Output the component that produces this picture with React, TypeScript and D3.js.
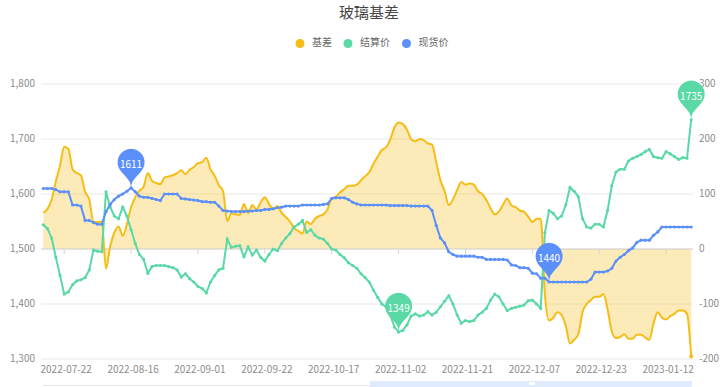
import React from "react";
import * as d3 from "d3";

// 现货价
const spot = [
  1610, 1610, 1610, 1608, 1604, 1604, 1604, 1580, 1580, 1578,
  1552, 1552, 1548, 1545, 1545, 1568, 1581, 1590, 1596, 1600,
  1605, 1611, 1604, 1596, 1594, 1594, 1592, 1590, 1588, 1600,
  1600, 1600, 1600, 1592, 1591, 1590, 1589, 1588, 1586, 1586,
  1585, 1585, 1578, 1570, 1569, 1568, 1568, 1568, 1568, 1569,
  1569, 1570, 1570, 1572, 1572, 1573, 1575, 1576, 1578, 1578,
  1578, 1578, 1580, 1580, 1580, 1580, 1580, 1581, 1582, 1592,
  1593, 1593, 1593, 1590, 1585, 1582, 1580, 1580, 1580, 1580,
  1580, 1580, 1580, 1579, 1579, 1579, 1579, 1579, 1578, 1578,
  1578, 1578, 1578, 1570, 1543, 1520, 1511, 1495, 1490, 1487,
  1487, 1487, 1487, 1487, 1485, 1485, 1481, 1481, 1481, 1481,
  1481, 1480, 1471, 1470, 1466, 1466, 1465, 1456, 1455, 1447,
  1447, 1440, 1440, 1440, 1440, 1440, 1440, 1440, 1440, 1440,
  1440, 1445, 1458, 1458, 1458, 1460, 1465, 1478, 1485, 1490,
  1497, 1502, 1512, 1516, 1516, 1516, 1525, 1531, 1540, 1540,
  1540, 1540, 1540, 1540, 1540, 1540,
];

// 结算价
const settle = [
  1544, 1537, 1520, 1485, 1452, 1418, 1422, 1435, 1442, 1444,
  1448, 1462, 1498, 1496, 1495, 1604, 1576, 1560, 1555, 1576,
  1560, 1535, 1510, 1490, 1481, 1456, 1468, 1470, 1470, 1470,
  1468, 1466, 1462, 1449, 1455, 1446, 1440, 1432, 1428, 1420,
  1440, 1452, 1462, 1465, 1518, 1503, 1505, 1506, 1486, 1504,
  1489, 1498, 1485, 1478, 1490, 1500, 1497, 1510, 1520, 1528,
  1540, 1545, 1552, 1530, 1535, 1525, 1520, 1518, 1510, 1500,
  1498, 1490, 1484, 1475, 1470, 1465, 1455, 1448, 1440, 1425,
  1412, 1400, 1395, 1380, 1358, 1349, 1352, 1362, 1378, 1382,
  1378, 1380, 1386, 1380, 1385, 1395, 1405, 1415, 1400, 1380,
  1365, 1370, 1368, 1370, 1380, 1385, 1392, 1407, 1418, 1413,
  1400, 1388, 1392, 1394, 1396, 1398, 1406, 1407, 1400, 1392,
  1530, 1570, 1565, 1555, 1560, 1580, 1612, 1605, 1595, 1555,
  1540, 1538, 1545, 1545, 1540, 1570, 1615, 1640, 1645, 1645,
  1660, 1665, 1668, 1672, 1677, 1681, 1668, 1666, 1665, 1677,
  1673, 1668, 1663, 1666, 1665, 1735,
];

// 基差
const basis = [
  66, 73, 90, 123, 152, 186, 182, 145, 138, 134,
  104, 90, 50, 49, 50, -36, 5, 30, 41, 24,
  45, 76, 94, 106, 113, 138, 124, 120, 118, 130,
  132, 134, 138, 143, 136, 144, 149, 156, 158, 166,
  145, 133, 116, 105, 51, 65, 63, 62, 82, 65,
  80, 72, 85, 94, 82, 73, 78, 66, 58, 50,
  38, 33, 28, 50, 45, 55, 60, 63, 72, 92,
  95, 103, 109, 115, 115, 117, 125, 132, 140, 155,
  168, 180, 185, 199, 221, 230, 227, 217, 200, 196,
  200, 198, 192, 190, 158, 125, 106, 80, 90, 107,
  122, 117, 119, 117, 105, 100, 89, 74, 63, 68,
  81, 92, 79, 76, 70, 68, 59, 49, 55, 55,
  -83, -130, -125, -115, -120, -140, -172, -165, -155, -115,
  -100, -93, -87, -87, -82, -110, -150, -162, -160, -155,
  -163, -163, -156, -156, -161, -165, -135, -115, -125, -128,
  -122, -118, -112, -112, -118, -195,
];

const tickDates = [
  "2022-07-22", "2022-08-16", "2022-09-01", "2022-09-22", "2022-10-17",
  "2022-11-02", "2022-11-21", "2022-12-07", "2022-12-23", "2023-01-12",
];
const firstTick = 5;
const tickStep = 16;

const leftTicks = [1300, 1400, 1500, 1600, 1700, 1800];
const rightTicks = [-200, -100, 0, 100, 200, 300];

const YELLOW = "#F6BD16";
const GREEN = "#5AD8A6";
const BLUE = "#5B8FF9";
const FONT = "'Noto Sans CJK SC', 'Noto Sans', sans-serif";

function pinPath(tx: number, ty: number, size = 45) {
  const w = (size / 5) * 3;
  const h = Math.max(w, size);
  const r = w / 2;
  const dy = (r * r) / (h - r);
  const cy = ty - h + r + dy;
  const a = Math.asin(dy / r);
  const dx = Math.cos(a) * r;
  const tanX = Math.sin(a);
  const tanY = Math.cos(a);
  const cp = r * 0.6;
  const cp2 = r * 0.7;
  return (
    `M${tx - dx},${cy + dy}` +
    `A${r},${r} 0 1 1 ${tx + dx},${cy + dy}` +
    `C${tx + dx - tanX * cp},${cy + dy + tanY * cp} ${tx},${ty - cp2} ${tx},${ty}` +
    `C${tx},${ty - cp2} ${tx - dx + tanX * cp},${cy + dy + tanY * cp} ${tx - dx},${cy + dy}Z`
  );
}

export default function App() {
  const n = spot.length;
  const x = d3.scaleLinear().domain([0, n - 1]).range([43.3, 691.2]);
  const yL = d3.scaleLinear().domain([1300, 1800]).range([359, 84]);
  const yR = d3.scaleLinear().domain([-200, 300]).range([359, 84]);
  const idx = d3.range(n);

  const basisArea = d3
    .area<number>()
    .x((i) => x(i))
    .y0(yR(0))
    .y1((i) => yR(basis[i]))
    .curve(d3.curveMonotoneX);
  const basisLine = d3
    .line<number>()
    .x((i) => x(i))
    .y((i) => yR(basis[i]))
    .curve(d3.curveMonotoneX);
  const settleLine = d3
    .line<number>()
    .x((i) => x(i))
    .y((i) => yL(settle[i]));
  const spotLine = d3
    .line<number>()
    .x((i) => x(i))
    .y((i) => yL(spot[i]));

  // markPoints: max / min of each price series
  const pins = [
    { i: d3.maxIndex(spot), v: d3.max(spot)!, color: BLUE },
    { i: d3.minIndex(spot), v: d3.min(spot)!, color: BLUE },
    { i: d3.maxIndex(settle), v: d3.max(settle)!, color: GREEN },
    { i: d3.minIndex(settle), v: d3.min(settle)!, color: GREEN },
  ];

  const fmt = d3.format(",");
  const gx0 = 41;
  const gx1 = 693;

  const legend = [
    { name: "基差", color: YELLOW, cx: 300 },
    { name: "结算价", color: GREEN, cx: 348 },
    { name: "现货价", color: BLUE, cx: 406.5 },
  ];

  return (
    <div style={{ position: "absolute", left: 0, top: 0 }}>
      <svg width={720} height={387} style={{ display: "block", fontFamily: FONT }}>
        <rect width={720} height={387} fill="#fff" />
        <text x={369} y={14} textAnchor="middle" dominantBaseline="middle" fontSize={15} fill="#464646">
          玻璃基差
        </text>
        {legend.map((l) => (
          <g key={l.name}>
            <circle cx={l.cx} cy={43.5} r={4.5} fill={l.color} />
            <text x={l.cx + 12} y={43.5} dominantBaseline="middle" fontSize={10} fill="#666">
              {l.name}
            </text>
          </g>
        ))}

        {leftTicks.map((t) => (
          <line key={t} x1={gx0} x2={gx1} y1={yL(t)} y2={yL(t)} stroke="#e9e9e9" strokeWidth={1} />
        ))}
        {leftTicks.map((t) => (
          <text key={t} x={35} y={yL(t)} textAnchor="end" dominantBaseline="middle" fontSize={10} fill="#8c8c8c">
            {fmt(t)}
          </text>
        ))}
        {rightTicks.map((t) => (
          <text key={t} x={699} y={yR(t)} textAnchor="start" dominantBaseline="middle" fontSize={10} fill="#8c8c8c">
            {t}
          </text>
        ))}

        <path d={basisArea(idx) || ""} fill={YELLOW} fillOpacity={0.3} />

        <line x1={gx0} x2={gx1} y1={yR(0)} y2={yR(0)} stroke="#d4d4d4" strokeWidth={1} />
        {tickDates.map((d, k) => {
          const xi = x(firstTick + k * tickStep);
          return (
            <g key={d}>
              <line x1={xi} x2={xi} y1={yR(0)} y2={yR(0) + 5} stroke="#d4d4d4" />
              <text x={xi + 2} y={370} textAnchor="middle" dominantBaseline="middle" fontSize={10} fill="#8c8c8c">
                {d}
              </text>
            </g>
          );
        })}

        <path d={basisLine(idx) || ""} fill="none" stroke={YELLOW} strokeWidth={2} />
        <circle cx={x(n - 1)} cy={yR(basis[n - 1])} r={2} fill={YELLOW} />

        <path d={settleLine(idx) || ""} fill="none" stroke={GREEN} strokeWidth={2} />
        {idx.map((i) => (
          <circle key={i} cx={x(i)} cy={yL(settle[i])} r={1.6} fill={GREEN} />
        ))}

        <path d={spotLine(idx) || ""} fill="none" stroke={BLUE} strokeWidth={2} />
        {idx.map((i) => (
          <circle key={i} cx={x(i)} cy={yL(spot[i])} r={1.6} fill={BLUE} />
        ))}

        {pins.map((p) => {
          const tx = x(p.i);
          const ty = yL(p.v);
          return (
            <g key={`${p.color}-${p.i}`}>
              <path d={pinPath(tx, ty)} fill={p.color} />
              <text x={tx} y={ty - 22.5} textAnchor="middle" dominantBaseline="middle" fontSize={10} fill="#fff">
                {p.v}
              </text>
            </g>
          );
        })}

        {/* dataZoom slider strip */}
        <line x1={43} x2={370} y1={385.5} y2={385.5} stroke="#e2e6ee" />
        <rect x={370} y={381} width={322} height={10} fill="#87afff" fillOpacity={0.25} />
        <rect x={529} y={382} width={6} height={3} fill="#fff" />
      </svg>
    </div>
  );
}
